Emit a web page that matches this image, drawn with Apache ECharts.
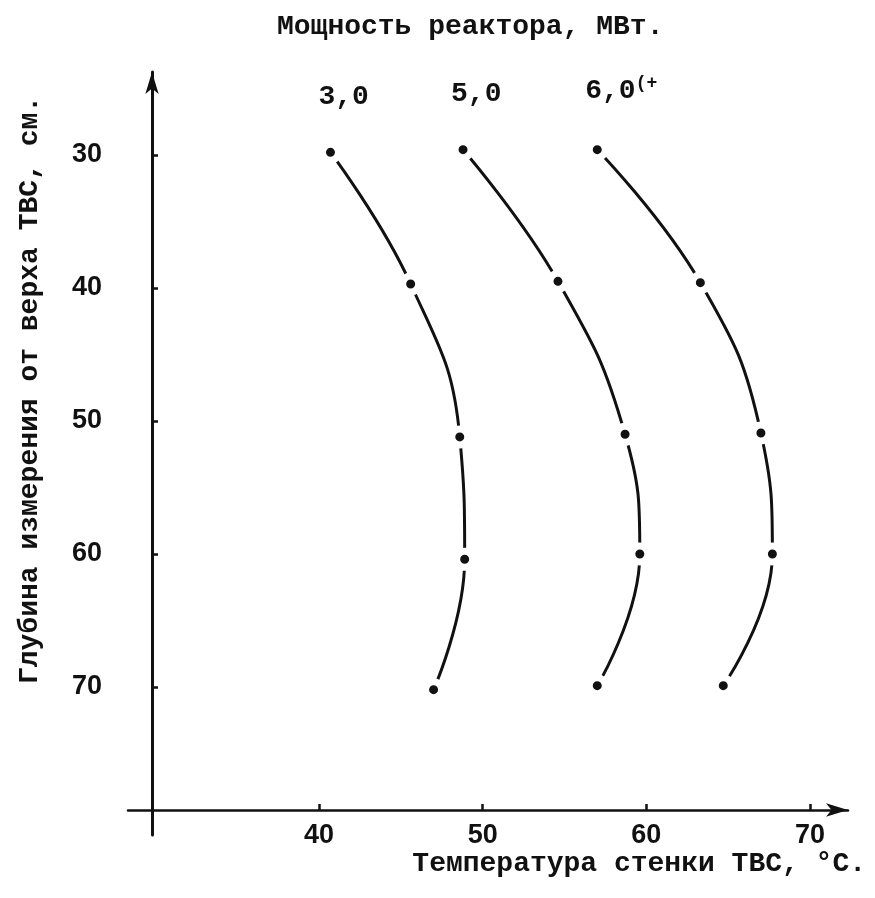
<!DOCTYPE html>
<html>
<head>
<meta charset="utf-8">
<script src="https://cdn.jsdelivr.net/npm/echarts@6/dist/echarts.min.js"></script>
<style>html,body{margin:0;padding:0;background:#fff;}#chart{width:875px;height:898px;}</style>
</head>
<body>
<div id="chart"></div>
<script>
// Reactor power (MW) curve names
const seriesNames = ['3,0', '5,0', '6,0(+'];
// Wall temperature of fuel assembly, °C (x) vs measurement depth from top, cm (y)
const temps30 = [40.7, 45.6, 48.6, 48.9, 47.0];
const depths30 = [29.8, 39.7, 51.2, 60.4, 70.2];
const temps50 = [48.8, 54.6, 58.7, 59.6, 57.0];
const depths50 = [29.6, 39.5, 51.0, 60.0, 69.9];
const temps60 = [57.0, 63.3, 67.0, 67.7, 64.7];
const depths60 = [29.6, 39.6, 50.9, 60.0, 69.9];
// Tick labels
const xTicks = [40, 50, 60, 70];
const yTicks = [30, 40, 50, 60, 70];

const titleText = 'Мощность реактора, МВт.';
const xTitle = 'Температура стенки ТВС, °С.';
const yTitle = 'Глубина измерения от верха ТВС, см.';

const mono = '"Liberation Mono", "DejaVu Sans Mono", monospace';
const ink = '#111';

function makeSeries(name, xs, ys) {
  const data = xs.map((x, i) => {
    const item = { value: [x, ys[i]] };
    if (i === 0) {
      item.label = { show: true };
    }
    return item;
  });
  return {
    type: 'line',
    name: name,
    data: data,
    smooth: 0.45,
    symbol: 'circle',
    symbolSize: 16,
    lineStyle: { color: ink, width: 3 },
    itemStyle: { color: ink, borderColor: '#fff', borderWidth: 7 },
    label: {
      show: false,
      position: 'top',
      distance: 30,
      align: 'left',
      offset: [-12, 0],
      formatter: function () {
        const p = name.indexOf('(');
        if (p >= 0) return '{a|' + name.slice(0, p) + '}{s|' + name.slice(p) + '}';
        return '{a|' + name + '}';
      },
      rich: {
        a: { fontFamily: mono, fontWeight: 'bold', fontSize: 28, color: ink },
        s: { fontFamily: mono, fontWeight: 'bold', fontSize: 18, color: ink, padding: [0, 0, 16, 0] }
      }
    },
    emphasis: { disabled: true },
    animation: false
  };
}

const chart = echarts.init(document.getElementById('chart'), null, { renderer: 'canvas' });
chart.setOption({
  backgroundColor: '#fff',
  animation: false,
  title: [
    { text: titleText, left: 272, top: 8, textStyle: { fontFamily: mono, fontWeight: 'bold', fontSize: 28, color: ink } },
    { text: xTitle, right: 4, top: 845, textStyle: { fontFamily: mono, fontWeight: 'bold', fontSize: 28, color: ink } }
  ],
  graphic: [
    {
      type: 'text', x: 30, y: 390, rotation: Math.PI / 2,
      style: { text: yTitle, fontFamily: mono, fontWeight: 'bold', fontSize: 28, fill: ink, textAlign: 'center', textVerticalAlign: 'middle' }
    }
  ],
  grid: { left: 128, right: 27, top: 72, bottom: 63, containLabel: false },
  xAxis: {
    type: 'value', min: 28.33, max: 72.32, offset: -25,
    axisLine: { onZero: false, lineStyle: { color: ink, width: 2.5 }, symbol: ['none', 'arrow'], symbolSize: [10, 22] },
    axisTick: { inside: true, length: 6, customValues: xTicks, lineStyle: { color: ink, width: 2.5 } },
    axisLabel: { customValues: xTicks, margin: 12, fontFamily: '"Liberation Sans", Arial, sans-serif', fontWeight: 'bold', fontSize: 27, color: ink },
    splitLine: { show: false }
  },
  yAxis: {
    type: 'value', inverse: true, min: 23.76, max: 81.13, offset: -24,
    axisLine: { onZero: false, lineStyle: { color: ink, width: 3 }, symbol: ['none', 'arrow'], symbolSize: [10, 22] },
    axisTick: { inside: true, length: 6, customValues: yTicks, lineStyle: { color: ink, width: 2.5 } },
    axisLabel: { customValues: yTicks, margin: 50, fontFamily: '"Liberation Sans", Arial, sans-serif', fontWeight: 'bold', fontSize: 27, color: ink },
    splitLine: { show: false }
  },
  series: [
    makeSeries(seriesNames[0], temps30, depths30),
    makeSeries(seriesNames[1], temps50, depths50),
    makeSeries(seriesNames[2], temps60, depths60)
  ]
});
</script>
</body>
</html>
